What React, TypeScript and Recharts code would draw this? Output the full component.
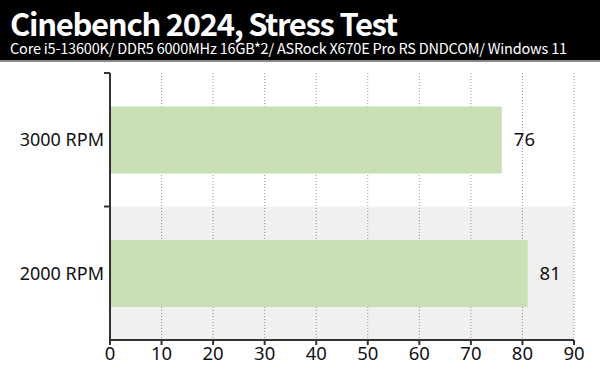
import { BarChart, Bar, XAxis, YAxis, CartesianGrid, ReferenceArea, LabelList } from "recharts";

const categories = ["3000 RPM", "2000 RPM"];
const scores = [76, 81];
const xTicks = [0, 10, 20, 30, 40, 50, 60, 70, 80, 90];
const shadedCategory = "2000 RPM";

const title = "Cinebench 2024, Stress Test";
const subtitle = "Core i5-13600K/ DDR5 6000MHz 16GB*2/ ASRock X670E Pro RS DNDCOM/ Windows 11";

const data = categories.map((name, i) => ({ name, score: scores[i] }));

const FONT = "'Noto Sans', 'DejaVu Sans', sans-serif";
const AXIS = "#333";

function CategoryTick(props: any) {
  const { x, y, payload } = props;
  const top = y - (payload?.offset ?? 0);
  const axisX = x + 6;
  return (
    <g>
      <line x1={axisX - 6} x2={axisX} y1={top} y2={top} stroke={AXIS} strokeWidth={2} />
      <text x={x} y={y} dy={6.5} textAnchor="end" fontSize={18} fill="#111" fontFamily={FONT}>
        {payload.value}
      </text>
    </g>
  );
}

export default function App() {
  return (
    <div style={{ position: "absolute", left: 0, top: 0, width: 600, height: 380, background: "#fff", overflow: "hidden" }}>
      <div
        style={{
          position: "absolute",
          left: 0,
          top: 0,
          width: 600,
          height: 60,
          background: "#000",
          borderBottom: "2px solid #8a8a8a",
          color: "#fff",
          fontFamily: "'Noto Sans CJK KR', 'Noto Sans', sans-serif",
          whiteSpace: "nowrap"
        }}
      >
        <div style={{ position: "absolute", left: 10, top: 7, fontSize: 31, fontWeight: 700, lineHeight: "32px", letterSpacing: -1.3 }}>
          {title}
        </div>
        <div style={{ position: "absolute", left: 10, top: 39, fontSize: 14.5, lineHeight: "18px", letterSpacing: -0.2 }}>
          {subtitle}
        </div>
      </div>
      <BarChart
        width={600}
        height={380}
        data={data}
        layout="vertical"
        margin={{ top: 73, right: 26, left: 0, bottom: 0 }}
        barCategoryGap="25%"
      >
        <ReferenceArea y1={shadedCategory} y2={shadedCategory} fill="#000" fillOpacity={0.058} stroke="none" ifOverflow="hidden" />
        <CartesianGrid horizontal={false} stroke="#9a9a9a" strokeDasharray="1 2" />
        <XAxis
          type="number"
          domain={[0, 90]}
          ticks={xTicks}
          interval={0}
          height={40}
          stroke={AXIS}
          strokeWidth={2}
          tickSize={5}
          tickMargin={2}
          tick={{ fill: "#111", fontSize: 18.5, fontFamily: FONT }}
        />
        <YAxis
          type="category"
          dataKey="name"
          width={110}
          stroke={AXIS}
          strokeWidth={2}
          tickLine={false}
          tickSize={0}
          tickMargin={6}
          tick={<CategoryTick />}
        />
        <Bar dataKey="score" fill="#c9dfb5" isAnimationActive={false}>
          <LabelList dataKey="score" position="right" offset={12} fill="#111" fontSize={18.5} fontFamily={FONT} />
        </Bar>
      </BarChart>
    </div>
  );
}
